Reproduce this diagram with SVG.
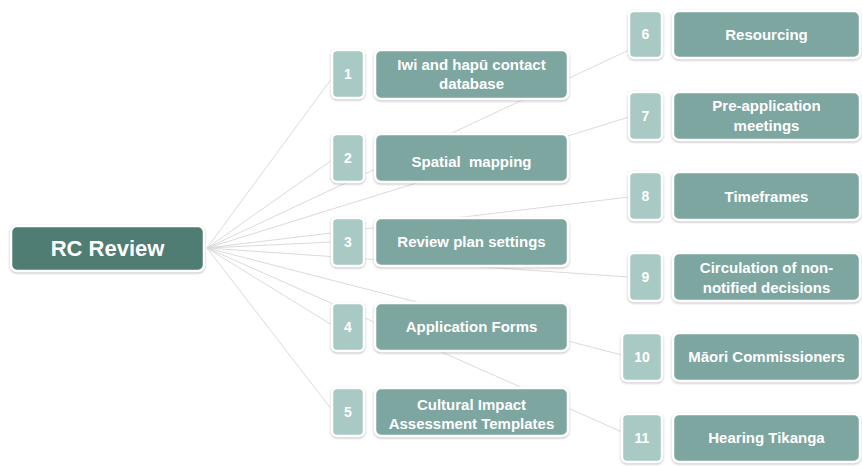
<svg xmlns="http://www.w3.org/2000/svg" width="862" height="466" viewBox="0 0 862 466">
<defs>
<filter id="sh" x="-10%" y="-10%" width="120%" height="130%">
<feDropShadow dx="0" dy="1" stdDeviation="1.2" flood-color="#8a7f80" flood-opacity="0.55"/>
</filter>
</defs>
<style>
.conn line{stroke:#dcdada;stroke-width:1;fill:none}
.root{fill:#4f7b73;stroke:#ffffff;stroke-width:2.5;filter:url(#sh)}
.num{fill:#a9c9c4;stroke:#ffffff;stroke-width:2.5;filter:url(#sh)}
.lab{fill:#7ca69f;stroke:#ffffff;stroke-width:2.5;filter:url(#sh)}
text{font-family:"Liberation Sans",Arial,sans-serif;font-weight:bold;fill:#ffffff;text-anchor:middle}
.t{font-size:15px}
.n{font-size:14px}
.r{font-size:22px}
</style>
<rect width="862" height="466" fill="#ffffff"/>
<g id="connectors" class="conn">
<line x1="207" y1="248" x2="332" y2="78"/>
<line x1="207" y1="248" x2="332" y2="160"/>
<line x1="207" y1="248" x2="332" y2="242"/>
<line x1="207" y1="248" x2="332" y2="325"/>
<line x1="207" y1="248" x2="332" y2="410"/>
<line x1="207" y1="248" x2="629" y2="50"/>
<line x1="207" y1="248" x2="629" y2="117"/>
<line x1="207" y1="248" x2="629" y2="197"/>
<line x1="207" y1="248" x2="629" y2="277"/>
<line x1="207" y1="248" x2="622" y2="355"/>
<line x1="207" y1="248" x2="622" y2="432"/>
</g>
<g id="root">
<rect class="root" x="11" y="226" width="193" height="45" rx="6"/>
<text class="r" x="107.5" y="256">RC Review</text>
</g>
<g id="n1">
<rect class="num" x="332" y="50" width="32" height="48" rx="5"/>
<text class="n" x="348" y="79">1</text>
<rect class="lab" x="375" y="50" width="193" height="49" rx="6"/>
<text class="t" x="471.5" y="70">Iwi and hapū contact</text>
<text class="t" x="471.5" y="89">database</text>
</g>
<g id="n2">
<rect class="num" x="332" y="134" width="32" height="48" rx="5"/>
<text class="n" x="348" y="163">2</text>
<rect class="lab" x="375" y="134" width="193" height="48" rx="6"/>
<text class="t" x="471.5" y="167" xml:space="preserve">Spatial  mapping</text>
</g>
<g id="n3">
<rect class="num" x="332" y="218" width="32" height="48" rx="5"/>
<text class="n" x="348" y="247">3</text>
<rect class="lab" x="375" y="218" width="193" height="48" rx="6"/>
<text class="t" x="471.5" y="247">Review plan settings</text>
</g>
<g id="n4">
<rect class="num" x="332" y="303" width="32" height="48" rx="5"/>
<text class="n" x="348" y="332">4</text>
<rect class="lab" x="375" y="303" width="193" height="48" rx="6"/>
<text class="t" x="471.5" y="332">Application Forms</text>
</g>
<g id="n5">
<rect class="num" x="332" y="388" width="32" height="48" rx="5"/>
<text class="n" x="348" y="417">5</text>
<rect class="lab" x="375" y="388" width="193" height="48" rx="6"/>
<text class="t" x="471.5" y="410">Cultural Impact</text>
<text class="t" x="471.5" y="429">Assessment Templates</text>
</g>
<g id="n6">
<rect class="num" x="629" y="11" width="33" height="47" rx="5"/>
<text class="n" x="645.5" y="39">6</text>
<rect class="lab" x="673" y="11" width="187" height="47" rx="6"/>
<text class="t" x="766.5" y="40">Resourcing</text>
</g>
<g id="n7">
<rect class="num" x="629" y="92" width="33" height="48" rx="5"/>
<text class="n" x="645.5" y="121">7</text>
<rect class="lab" x="673" y="92" width="187" height="48" rx="6"/>
<text class="t" x="766.5" y="111">Pre-application</text>
<text class="t" x="766.5" y="131">meetings</text>
</g>
<g id="n8">
<rect class="num" x="629" y="172" width="33" height="48" rx="5"/>
<text class="n" x="645.5" y="201">8</text>
<rect class="lab" x="673" y="172" width="187" height="48" rx="6"/>
<text class="t" x="766.5" y="202">Timeframes</text>
</g>
<g id="n9">
<rect class="num" x="629" y="253" width="33" height="48" rx="5"/>
<text class="n" x="645.5" y="282">9</text>
<rect class="lab" x="673" y="253" width="187" height="48" rx="6"/>
<text class="t" x="766.5" y="273">Circulation of non-</text>
<text class="t" x="766.5" y="293">notified decisions</text>
</g>
<g id="n10">
<rect class="num" x="622" y="333" width="40" height="48" rx="5"/>
<text class="n" x="642" y="362">10</text>
<rect class="lab" x="673" y="333" width="187" height="48" rx="6"/>
<text class="t" x="766.5" y="362">Māori Commissioners</text>
</g>
<g id="n11">
<rect class="num" x="622" y="414" width="40" height="48" rx="5"/>
<text class="n" x="642" y="443">11</text>
<rect class="lab" x="673" y="414" width="187" height="48" rx="6"/>
<text class="t" x="766.5" y="443">Hearing Tikanga</text>
</g>
</svg>
